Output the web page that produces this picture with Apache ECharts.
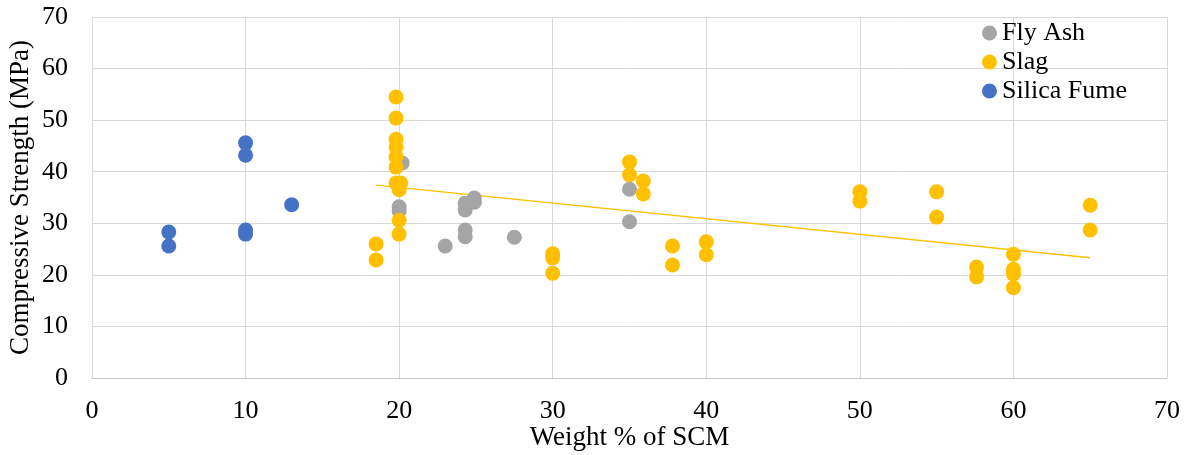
<!DOCTYPE html>
<html>
<head>
<meta charset="utf-8">
<script src="https://cdn.jsdelivr.net/npm/echarts@6/dist/echarts.min.js"></script>
<style>
  html, body { margin: 0; padding: 0; background: #fff; }
  #chart { width: 1185px; height: 455px; }
</style>
</head>
<body>
<div id="chart"></div>
<script>
// Compressive strength vs. SCM replacement level, by SCM type
const flyAsh = [
  [20.2, 41.7], [20, 33.2], [20, 32.4], [23, 25.6], [24.3, 28.7], [24.3, 27.4],
  [24.3, 32.6], [24.3, 33.9], [24.9, 34.9], [24.9, 34.1], [27.5, 27.3],
  [35, 36.6], [35, 30.3]
];
const slag = [
  [18.5, 26.0], [18.5, 22.9], [19.8, 54.5], [19.8, 50.4], [19.8, 46.3], [19.8, 44.8],
  [19.8, 42.9], [19.8, 40.9], [19.8, 37.8], [20.1, 37.8], [20, 36.5], [20, 30.6],
  [20, 27.9], [30, 24.1], [30, 23.3], [30, 20.3], [35, 41.9], [35, 39.4],
  [35.9, 38.2], [35.9, 35.7], [37.8, 25.6], [37.8, 21.9], [40, 26.4], [40, 23.9],
  [50, 36.1], [50, 34.3], [55, 36.1], [55, 31.2], [57.6, 21.5], [57.6, 19.6],
  [60, 24.0], [60, 21.1], [60, 20.2], [60, 17.5], [65, 33.5], [65, 28.7]
];
const silicaFume = [
  [5, 28.3], [5, 25.6], [10, 45.6], [10, 43.2], [10, 28.7], [10, 27.9], [13, 33.6]
];
// Linear trend of the slag results (end points)
const slagTrend = [[18.5, 37.4], [65, 23.3]];

const seriesNames = ['Fly Ash', 'Slag', 'Silica Fume'];
const seriesColors = ['#a5a5a5', '#ffc000', '#4472c4'];

const FONT = "'Liberation Serif', 'Times New Roman', serif";
const gridColor = '#d9d9d9';

const chart = echarts.init(document.getElementById('chart'), null, { renderer: 'canvas' });

chart.setOption({
  animation: false,
  backgroundColor: '#ffffff',
  textStyle: { fontFamily: FONT },
  grid: { left: 92, right: 18, top: 17, bottom: 77, containLabel: false, outerBoundsMode: 'none' },
  legend: {
    data: seriesNames,
    orient: 'vertical',
    left: 977,
    top: 15,
    icon: 'circle',
    itemWidth: 15,
    itemHeight: 15,
    itemGap: 3,
    textStyle: { fontFamily: FONT, fontSize: 26, color: '#000' }
  },
  xAxis: {
    type: 'value',
    min: 0, max: 70, interval: 10,
    name: 'Weight % of SCM',
    nameLocation: 'middle',
    nameGap: 46,
    nameMoveOverlap: false,
    nameTextStyle: { fontFamily: FONT, fontSize: 27, color: '#000' },
    axisLine: { show: true, lineStyle: { color: '#c8c8c8', width: 1 } },
    axisTick: { show: false },
    axisLabel: { fontFamily: FONT, fontSize: 26, color: '#000', margin: 20 },
    splitLine: { show: true, lineStyle: { color: gridColor, width: 1 } }
  },
  yAxis: {
    type: 'value',
    min: 0, max: 70, interval: 10,
    name: 'Compressive Strength (MPa)',
    nameLocation: 'middle',
    nameGap: 58,
    nameMoveOverlap: false,
    nameTextStyle: { fontFamily: FONT, fontSize: 27, color: '#000' },
    axisLine: { show: false },
    axisTick: { show: false },
    axisLabel: { fontFamily: FONT, fontSize: 26, color: '#000', margin: 24 },
    splitLine: { show: true, lineStyle: { color: gridColor, width: 1 } }
  },
  series: [
    {
      name: 'Slag trend',
      type: 'line',
      data: slagTrend,
      symbol: 'none',
      silent: true,
      z: 1,
      lineStyle: { color: '#ffc000', width: 1.5 }
    },
    {
      name: seriesNames[0], type: 'scatter', data: flyAsh, symbolSize: 15, z: 2,
      itemStyle: { color: seriesColors[0], opacity: 1 }
    },
    {
      name: seriesNames[1], type: 'scatter', data: slag, symbolSize: 15, z: 3,
      itemStyle: { color: seriesColors[1], opacity: 1 }
    },
    {
      name: seriesNames[2], type: 'scatter', data: silicaFume, symbolSize: 15, z: 4,
      itemStyle: { color: seriesColors[2], opacity: 1 }
    }
  ]
});
</script>
</body>
</html>
